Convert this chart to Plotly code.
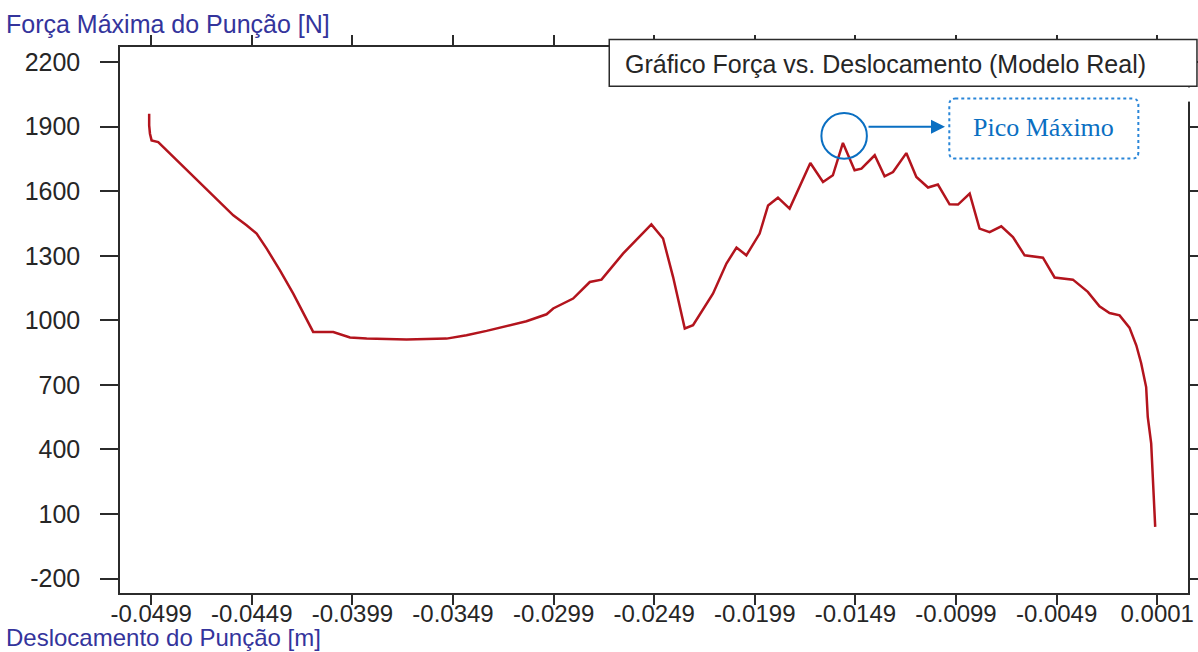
import plotly.graph_objects as go

# Punch displacement [m] and maximum punch force [N] (real model)
displacement = [
    -0.05000, -0.05000, -0.04996, -0.04988, -0.04955, -0.04897, -0.04748, -0.04582, -0.04516, -0.04466,
    -0.04416, -0.04350, -0.04284, -0.04234, -0.04185, -0.04085, -0.04002, -0.03919, -0.03721, -0.03522,
    -0.03423, -0.03323, -0.03224, -0.03125, -0.03025, -0.02992, -0.02893, -0.02810, -0.02752, -0.02645,
    -0.02504, -0.02446, -0.02396, -0.02338, -0.02297, -0.02198, -0.02131, -0.02081, -0.02032, -0.01966,
    -0.01924, -0.01875, -0.01817, -0.01767, -0.01714, -0.01651, -0.01602, -0.01552, -0.01494, -0.01460,
    -0.01394, -0.01345, -0.01303, -0.01237, -0.01187, -0.01129, -0.01080, -0.01022, -0.00980, -0.00922,
    -0.00873, -0.00823, -0.00765, -0.00707, -0.00649, -0.00558, -0.00500, -0.00409, -0.00335, -0.00277,
    -0.00227, -0.00177, -0.00128, -0.00094, -0.00070, -0.00045, -0.00037, -0.00020, -0.00012, -0.00004,
    0.00000,
]
force = [
    1960, 1906, 1867, 1836, 1828, 1775, 1643, 1488, 1442, 1403,
    1333, 1232, 1124, 1031, 946, 946, 920, 915, 911, 915,
    931, 951, 972, 996, 1028, 1055, 1101, 1178, 1189, 1310,
    1446, 1380, 1201, 962, 977, 1124, 1264, 1338, 1302, 1403,
    1534, 1570, 1519, 1619, 1731, 1643, 1674, 1824, 1697, 1705,
    1767, 1669, 1689, 1777, 1666, 1617, 1631, 1539, 1538, 1589,
    1426, 1410, 1437, 1387, 1302, 1291, 1199, 1189, 1132, 1065,
    1034, 1023, 966, 884, 802, 690, 551, 428, 288, 102,
    40,
]

x_tick_vals = [-0.0499, -0.0449, -0.0399, -0.0349, -0.0299, -0.0249,
               -0.0199, -0.0149, -0.0099, -0.0049, 0.0001]
x_tick_text = ["-0.0499", "-0.0449", "-0.0399", "-0.0349", "-0.0299", "-0.0249",
               "-0.0199", "-0.0149", "-0.0099", "-0.0049", "0.0001"]
y_tick_vals = [-200, 100, 400, 700, 1000, 1300, 1600, 1900, 2200]
y_tick_text = ["-200", "100", "400", "700", "1000", "1300", "1600", "1900", "2200"]

legend_text = "Gráfico Força vs. Deslocamento (Modelo Real)"
peak_label = "Pico Máximo"
x_title = "Deslocamento do Punção [m]"
y_title = "Força Máxima do Punção [N]"

SANS = "Liberation Sans, Arial, sans-serif"
SERIF = "Liberation Serif, Times New Roman, serif"
AXIS_COLOR = "#2b2b2b"
TITLE_COLOR = "#34349c"
BLUE = "#0a6fc2"
FS = 25

fig = go.Figure()
fig.add_trace(go.Scatter(
    x=displacement, y=force, mode="lines",
    line=dict(color="#b3141d", width=2.5),
    showlegend=False, hoverinfo="x+y",
))

# Maximum of the cutting phase (after the initial drop), highlighted with a circle
cut_idx = [i for i, d in enumerate(displacement) if d > -0.03]
i_peak = max(cut_idx, key=lambda i: force[i])
px_, py_ = displacement[i_peak], force[i_peak]
cx, cy = px_ + 0.00006, py_ + 33
rx, ry = 0.00113, 106

# rounded, dotted callout box (paper coords)
bx0, bx1, by0, by1 = 0.7765, 0.9535, 0.7956, 0.9055
crx, cry = 0.0056, 0.011
callout_path = (
    f"M {bx0+crx},{by1} L {bx1-crx},{by1} Q {bx1},{by1} {bx1},{by1-cry} "
    f"L {bx1},{by0+cry} Q {bx1},{by0} {bx1-crx},{by0} "
    f"L {bx0+crx},{by0} Q {bx0},{by0} {bx0},{by0+cry} "
    f"L {bx0},{by1-cry} Q {bx0},{by1} {bx0+crx},{by1} Z"
)

fig.update_layout(
    width=1198, height=652,
    margin=dict(l=120, r=10, t=47, b=59),
    paper_bgcolor="white", plot_bgcolor="white",
    font=dict(family=SANS, size=FS, color=AXIS_COLOR),
    xaxis=dict(
        range=[-0.05145, 0.00163], automargin=False,
        tickmode="array", tickvals=x_tick_vals, ticktext=x_tick_text,
        ticks="outside", ticklen=10, tickwidth=1.5, tickcolor=AXIS_COLOR,
        showline=True, linecolor=AXIS_COLOR, linewidth=1.5, mirror="ticks",
        showgrid=False, zeroline=False,
        tickfont=dict(family=SANS, size=24, color="#262626"),
        ticklabelstandoff=-12,
    ),
    yaxis=dict(
        range=[-267, 2270], automargin=False,
        tickmode="array", tickvals=y_tick_vals, ticktext=y_tick_text,
        ticks="outside", ticklen=18, tickwidth=1.5, tickcolor=AXIS_COLOR,
        showline=True, linecolor=AXIS_COLOR, linewidth=1.5, mirror="ticks",
        showgrid=False, zeroline=False,
        tickfont=dict(family=SANS, size=FS, color="#262626"),
        ticklabelstandoff=15,
    ),
    shapes=[
        # legend-style title box
        dict(type="rect", xref="paper", yref="paper",
             x0=0.4581, x1=1.0084, y0=0.928, y1=1.0136,
             fillcolor="white", line=dict(color="#2b2b2b", width=1.5), layer="above"),
        # gap under the title box on the right frame
        dict(type="rect", xref="paper", yref="paper",
             x0=0.992, x1=1.02, y0=0.90, y1=0.926,
             fillcolor="white", line=dict(width=0), layer="above"),
        # circle around the maximum
        dict(type="circle", xref="x", yref="y",
             x0=cx - rx, x1=cx + rx, y0=cy - ry, y1=cy + ry,
             line=dict(color=BLUE, width=2), layer="above"),
        # dotted callout box
        dict(type="path", xref="paper", yref="paper", path=callout_path,
             line=dict(color="#2a86d8", width=2, dash="dot"), layer="above"),
    ],
    annotations=[
        dict(text=y_title, xref="paper", yref="paper", x=-0.1087, y=1.043,
             xanchor="left", yanchor="middle", showarrow=False,
             font=dict(family=SANS, size=FS, color=TITLE_COLOR)),
        dict(text=x_title, xref="paper", yref="paper", x=-0.1087, y=-0.0811,
             xanchor="left", yanchor="middle", showarrow=False,
             font=dict(family=SANS, size=24, color=TITLE_COLOR)),
        dict(text=legend_text, xref="paper", yref="paper", x=0.4713, y=0.9683,
             xanchor="left", yanchor="middle", showarrow=False,
             font=dict(family=SANS, size=FS, color="#262626")),
        # arrow from the circle to the callout box
        dict(text="", xref="paper", yref="paper", x=0.7725, y=0.8538,
             ax=-78, ay=0, axref="pixel", ayref="pixel", showarrow=True,
             arrowhead=2, arrowsize=1.4, arrowwidth=2, arrowcolor=BLUE, standoff=0),
        dict(text=peak_label, xref="paper", yref="paper", x=0.8647, y=0.852,
             xanchor="center", yanchor="middle", showarrow=False,
             font=dict(family=SERIF, size=26, color=BLUE)),
    ],
)

fig.write_html("out.html")
